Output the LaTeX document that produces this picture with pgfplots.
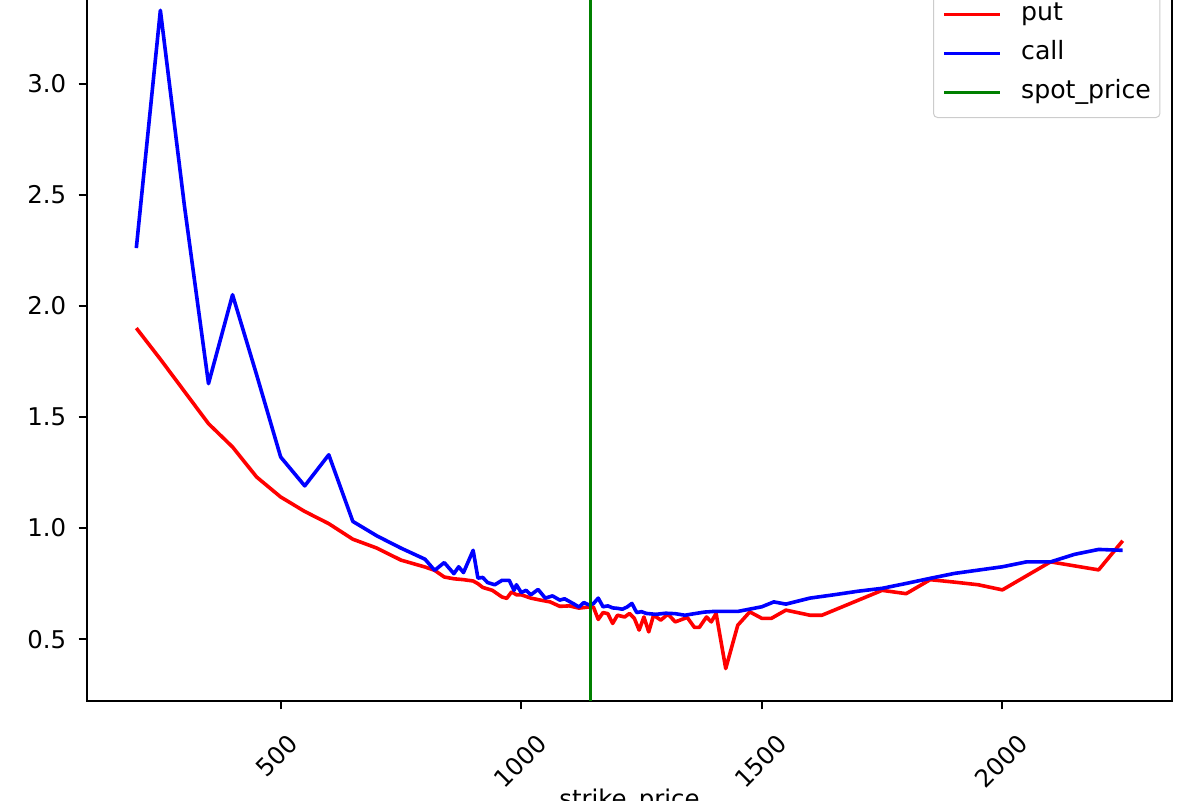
\documentclass[border=0pt]{standalone}
\usepackage{pgfplots}
\pgfplotsset{compat=1.18}
\usepackage{fontspec}
\setmainfont{DejaVu Sans}
\newcommand\mf{\fontsize{12.2pt}{14pt}\selectfont}
\newcommand\lf{\fontsize{12.6pt}{14pt}\selectfont}
\definecolor{mplgreen}{rgb}{0,0.5,0}
\begin{document}
\begin{tikzpicture}
\begin{axis}[
  at={(43.5pt,49.5pt)}, anchor=south west,
  scale only axis, width=542.5pt, height=361.8pt,
  xmin=97.5, xmax=2352.5, ymin=0.222, ymax=3.478,
  axis line style={line width=0.96pt},
  every tick/.style={black, line width=0.96pt},
  tick align=outside, major tick length=4.2pt,
  xtick={1000,1500,2000},
  extra x ticks={500},
  extra x tick style={x tick label style={xshift=-3pt, yshift=3pt}},
  ytick={0.5,1,1.5,2,2.5,3},
  xtick pos=bottom, ytick pos=left,
  /pgf/number format/assume math mode=true,
  /pgf/number format/1000 sep={},
  tick label style={font=\mf},
  y tick label style={/pgf/number format/fixed, /pgf/number format/fixed zerofill, /pgf/number format/precision=1, anchor=east, inner sep=0pt, xshift=-6pt},
  x tick label style={rotate=45, anchor=north east, inner sep=0pt, xshift=-2.86pt, yshift=-12.97pt},
  xlabel={strike\_price},
  x label style={at={(rel axis cs:0.5,0)}, anchor=north, inner sep=0pt, yshift=-44pt, font=\mf},
  legend cell align=left,
  legend image code/.code={\draw[#1] (0pt,0pt) -- (28pt,0pt);},
  legend style={at={(rel axis cs:1,1)}, anchor=north east, xshift=-5.8pt, yshift=-5.8pt,
    draw=black!20, line width=0.5pt, fill=white, rounded corners=2pt, font=\lf,
    inner xsep=4.5pt, inner ysep=6.5pt, row sep=7.5pt,
    nodes={inner sep=0pt, text height=9pt, text depth=3pt},
    /tikz/every odd column/.append style={column sep=9.5pt}},
]
\addplot[red, line width=1.8pt, line join=round] coordinates {
(200,1.90) (250,1.76) (300,1.615) (350,1.47) (400,1.365) (450,1.23) (500,1.14)
(550,1.075) (600,1.02) (650,0.95) (700,0.91) (750,0.856) (800,0.825) (820,0.81)
(840,0.78) (860,0.772) (880,0.768) (900,0.762) (910,0.75) (920,0.733) (940,0.72)
(960,0.69) (970,0.684) (980,0.713) (990,0.70) (1000,0.70) (1020,0.685) (1040,0.676)
(1060,0.668) (1080,0.648) (1100,0.650) (1120,0.640) (1140,0.645) (1150,0.645)
(1160,0.589) (1170,0.62) (1180,0.615) (1190,0.571) (1200,0.608) (1215,0.60)
(1225,0.616) (1235,0.594) (1245,0.541) (1255,0.60) (1265,0.533) (1275,0.608)
(1290,0.586) (1305,0.613) (1320,0.578) (1345,0.598) (1360,0.553) (1370,0.553)
(1385,0.60) (1395,0.578) (1405,0.616) (1425,0.368) (1450,0.563) (1475,0.623)
(1500,0.594) (1520,0.594) (1550,0.631) (1600,0.608) (1625,0.608) (1750,0.72)
(1800,0.705) (1850,0.768) (1900,0.757) (1950,0.745) (2000,0.722) (2100,0.848)
(2200,0.812) (2250,0.943)
};
\addlegendentry{put}
\addplot[blue, line width=1.8pt, line join=round] coordinates {
(200,2.26) (250,3.33) (300,2.45) (350,1.65) (400,2.05) (450,1.69) (500,1.32)
(550,1.19) (600,1.33) (650,1.03) (700,0.965) (750,0.91) (800,0.86) (820,0.81)
(840,0.845) (860,0.795) (870,0.826) (880,0.80) (900,0.90) (910,0.775) (920,0.778)
(930,0.755) (945,0.745) (960,0.765) (975,0.765) (985,0.72) (990,0.745) (1000,0.71)
(1010,0.72) (1020,0.70) (1035,0.724) (1050,0.685) (1065,0.695) (1080,0.676)
(1090,0.682) (1100,0.670) (1110,0.658) (1120,0.645) (1130,0.665) (1140,0.655)
(1150,0.66) (1160,0.685) (1170,0.646) (1180,0.650) (1190,0.641) (1200,0.639)
(1210,0.635) (1220,0.645) (1230,0.661) (1240,0.62) (1250,0.624) (1260,0.616)
(1280,0.612) (1300,0.617) (1320,0.615) (1340,0.608) (1360,0.615) (1380,0.622)
(1400,0.625) (1450,0.625) (1500,0.646) (1525,0.668) (1550,0.658) (1600,0.685)
(1650,0.70) (1700,0.716) (1750,0.729) (1800,0.751) (1850,0.774) (1900,0.796)
(1950,0.811) (2000,0.826) (2050,0.848) (2100,0.848) (2150,0.882) (2200,0.904)
(2250,0.90)
};
\addlegendentry{call}
\addplot[mplgreen, line width=1.8pt] coordinates {(1144,0.222) (1144,3.478)};
\addlegendentry{spot\_price}
\end{axis}
\pgfresetboundingbox
\path[use as bounding box] (0,0) rectangle (600pt,400pt);
\end{tikzpicture}
\end{document}
